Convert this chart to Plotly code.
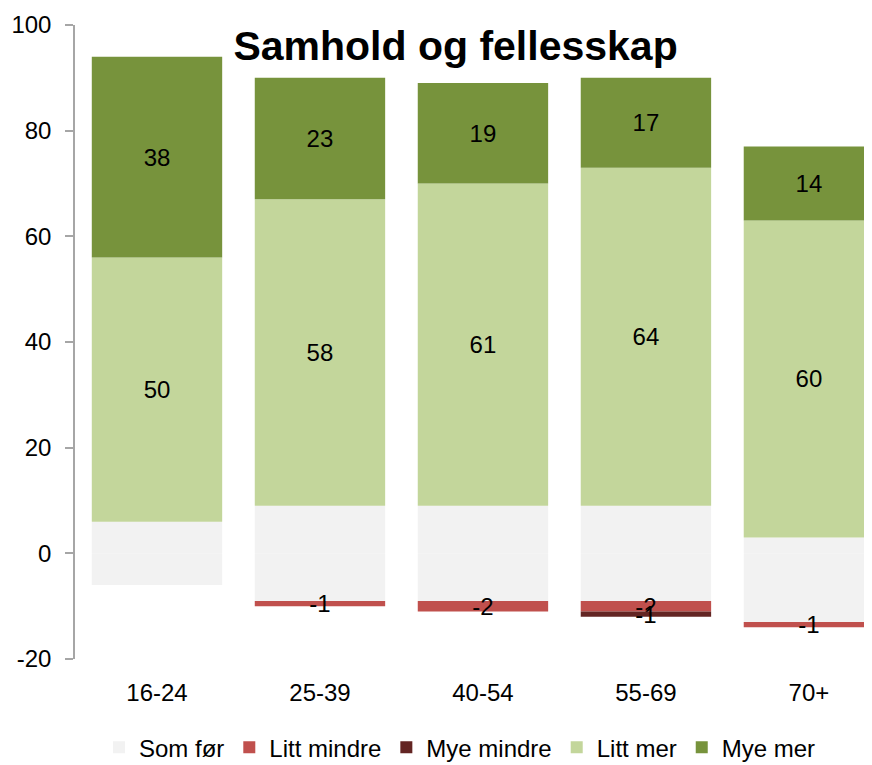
import plotly.graph_objects as go

categories = ["16-24", "25-39", "40-54", "55-69", "70+"]
som_for_pos = [6, 9, 9, 9, 3]
som_for_neg = [-6, -9, -9, -9, -13]
litt_mindre = [None, -1, -2, -2, -1]
mye_mindre = [None, None, None, -1, None]
litt_mer = [50, 58, 61, 64, 60]
mye_mer = [38, 23, 19, 17, 14]
y_ticks = [-20, 0, 20, 40, 60, 80, 100]
y_tick_text = ["-20", "0", "20", "40", "60", "80", "100"]

FONT = "Liberation Sans, Arial, sans-serif"
FS = 24
colors = {
    "Som før": "#F2F2F2",
    "Litt mindre": "#C0504D",
    "Mye mindre": "#632523",
    "Litt mer": "#C3D69B",
    "Mye mer": "#77933C",
}


def labels(vals):
    return ["" if v is None else str(v) for v in vals]


fig = go.Figure()
common = dict(width=0.8, textposition="inside", insidetextanchor="middle",
              constraintext="none", textangle=0,
              textfont=dict(family=FONT, size=FS, color="black"),
              hoverinfo="skip")

fig.add_trace(go.Bar(x=categories, y=som_for_pos, name="Som før", legendgroup="sf",
                     marker=dict(color=colors["Som før"], line=dict(width=0)), **common))
fig.add_trace(go.Bar(x=categories, y=som_for_neg, name="Som før", legendgroup="sf",
                     showlegend=False,
                     marker=dict(color=colors["Som før"], line=dict(width=0)), **common))
fig.add_trace(go.Bar(x=categories, y=litt_mindre, name="Litt mindre", text=labels(litt_mindre),
                     marker=dict(color=colors["Litt mindre"], line=dict(width=0)), **common))
fig.add_trace(go.Bar(x=categories, y=mye_mindre, name="Mye mindre", text=labels(mye_mindre),
                     marker=dict(color=colors["Mye mindre"], line=dict(width=0)), **common))
fig.add_trace(go.Bar(x=categories, y=litt_mer, name="Litt mer", text=labels(litt_mer),
                     marker=dict(color=colors["Litt mer"], line=dict(width=0)), **common))
fig.add_trace(go.Bar(x=categories, y=mye_mer, name="Mye mer", text=labels(mye_mer),
                     marker=dict(color=colors["Mye mer"], line=dict(width=0)), **common))

fig.update_layout(
    width=864, height=757,
    margin=dict(l=67, r=0, t=17, b=106, pad=0, autoexpand=False),
    barmode="relative",
    paper_bgcolor="white", plot_bgcolor="white",
    font=dict(family=FONT, size=FS, color="black"),
    title=dict(text="<b>Samhold og fellesskap</b>", x=0.518, xanchor="center",
               y=0.9498, yanchor="middle", xref="container", yref="container",
               font=dict(family=FONT, size=41, color="black")),
    showlegend=True,
    legend=dict(orientation="h", x=0.483, xanchor="center",
                y=-0.140, yanchor="middle",
                font=dict(family=FONT, size=FS, color="black"), traceorder="normal",
                itemclick=False),
    xaxis=dict(type="category", range=[-0.503, 4.387], showline=False, ticks="",
               showgrid=False, zeroline=False, ticklabelstandoff=17,
               tickfont=dict(family=FONT, size=FS, color="black")),
    yaxis=dict(range=[-20, 100], tickvals=y_ticks, ticktext=y_tick_text,
               showgrid=False, zeroline=False,
               showline=True, linecolor="#A6A6A6", linewidth=1.5,
               ticks="outside", ticklen=8, tickcolor="#A6A6A6", tickwidth=1.5,
               ticklabelstandoff=9,
               tickfont=dict(family=FONT, size=FS, color="black")),
)

fig.write_html("out.html")
